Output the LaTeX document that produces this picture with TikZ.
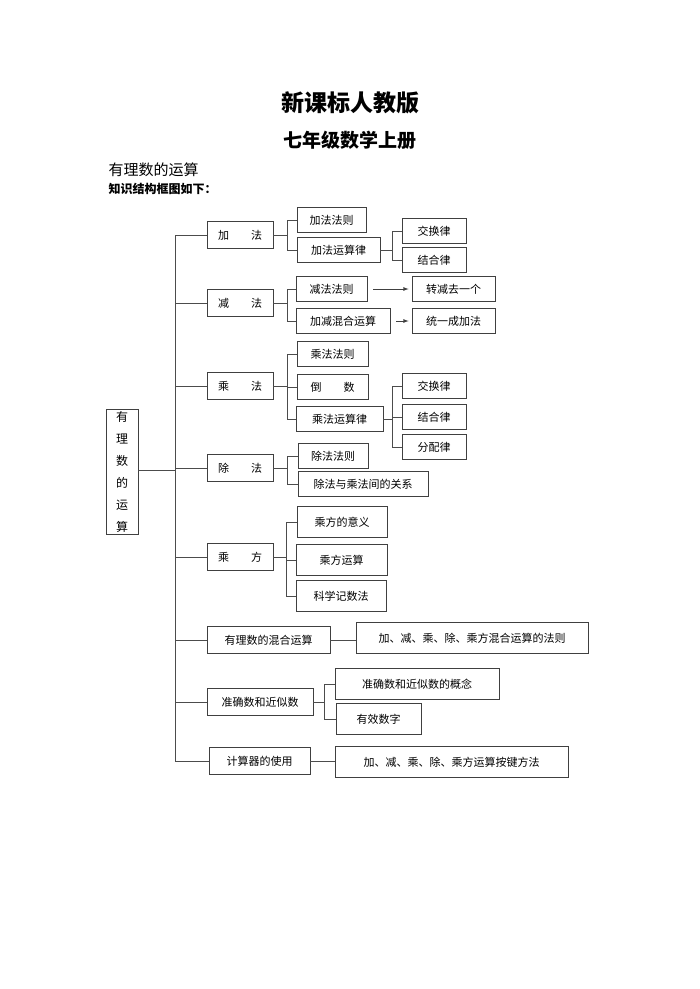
\documentclass[tikz,border=0pt]{standalone}
\usepackage{fontspec}
\setmainfont{Noto Sans CJK SC}
\begin{document}
\begin{tikzpicture}[x=1pt,y=-1pt,line width=0.8pt,
 bx/.style={draw=black!75,inner sep=0pt,font=\fontsize{11}{13}\selectfont},
 ln/.style={draw=black!70},
 ar/.style={draw=black!75,-latex}]
\useasboundingbox (0,0) rectangle (700,989);
\node[font=\fontsize{23}{26}\selectfont\bfseries] (t1) at (350,103) {新课标人教版};
\node[font=\fontsize{19}{22}\selectfont\bfseries] (t2) at (350,140) {七年级数学上册};
\node[anchor=west,font=\fontsize{15}{18}\selectfont] (t3) at (105,170) {有理数的运算};
\node[anchor=west,font=\fontsize{12}{14}\selectfont\bfseries] (t4) at (105,189) {知识结构框图如下：};
% root
\node[bx,minimum width=32pt,minimum height=125pt,align=center,font=\fontsize{12}{22}\selectfont] (r) at (122,472) {有\\理\\数\\的\\运\\算};
% level1
\newcommand{\Lone}[5]{\node[bx,minimum width=#3pt,minimum height=27pt] (#1) at (#4,#5) {#2};}
\Lone{a}{加\hspace{2em}法}{66}{240}{235}
\Lone{b}{减\hspace{2em}法}{66}{240}{303}
\Lone{c}{乘\hspace{2em}法}{66}{240}{386}
\Lone{d}{除\hspace{2em}法}{66}{240}{468}
\Lone{e}{乘\hspace{2em}方}{66}{240}{557}
\Lone{f}{有理数的混合运算}{123}{268.5}{640}
\Lone{g}{准确数和近似数}{106}{260}{702}
\Lone{h}{计算器的使用}{101}{259.5}{761}
\coordinate (tt) at (175,235);
\coordinate (tb) at (175,761);
\draw[ln] (r.east |- 0,470) -- (175,470);
\draw[ln] (tt) -- (tb);
\foreach \n in {a,b,c,d,e,f,g,h} \draw[ln] (\n.west) -- (\n.west -| tt);
% level2
\newcommand{\Ltwo}[5]{\node[bx,minimum width=#3pt,minimum height=25pt] (#1) at (#4,#5) {#2};}
\Ltwo{a1}{加法法则}{69}{331.5}{220}
\Ltwo{a2}{加法运算律}{83}{338.5}{250}
\Ltwo{b1}{减法法则}{71}{331.5}{289}
\Ltwo{b2}{加减混合运算}{94}{343}{321}
\Ltwo{c1}{乘法法则}{71}{332.5}{354}
\Ltwo{c2}{倒\hspace{2em}数}{71}{332.5}{387}
\Ltwo{c3}{乘法运算律}{87}{339.5}{419}
\Ltwo{d1}{除法法则}{70}{333}{456}
\Ltwo{d2}{除法与乘法间的关系}{130}{363}{484}
\newcommand{\Lbig}[5]{\node[bx,minimum width=#3pt,minimum height=31pt] (#1) at (#4,#5) {#2};}
\Lbig{e1}{乘方的意义}{90}{342}{522}
\Lbig{e2}{乘方运算}{91}{341.5}{560}
\Lbig{e3}{科学记数法}{90}{341}{596}
\Lbig{f1}{加、减、乘、除、乘方混合运算的法则}{232}{472}{638}
\Lbig{g1}{准确数和近似数的概念}{164}{417}{684}
\Lbig{g2}{有效数字}{85}{378.5}{719}
\Lbig{h1}{加、减、乘、除、乘方运算按键方法}{233}{451.5}{762}
% level3
\Ltwo{a21}{交换律}{64}{434}{231}
\Ltwo{a22}{结合律}{64}{434}{260}
\Ltwo{b11}{转减去一个}{83}{453.5}{289}
\Ltwo{b21}{统一成加法}{83}{453.5}{321}
\Ltwo{c31}{交换律}{64}{434}{386}
\Ltwo{c32}{结合律}{64}{434}{417}
\Ltwo{c33}{分配律}{64}{434}{447}
% brackets
\newcommand{\Brk}[3]{% parent, x, children
 \coordinate (bm) at (#2,0);
 \draw[ln] (#1.east) -- (#1.east -| bm);
 \foreach \k [count=\i] in {#3} {\draw[ln] (\k.west) -- (\k.west -| bm);}
}
\Brk{a}{287}{a1,a2}\draw[ln] (287,220) -- (287,250);
\Brk{b}{287}{b1,b2}\draw[ln] (287,289) -- (287,321);
\Brk{c}{287}{c1,c2,c3}\draw[ln] (287,354) -- (287,419);
\Brk{d}{287}{d1,d2}\draw[ln] (287,456) -- (287,484);
\Brk{e}{286}{e1,e2,e3}\draw[ln] (286,522) -- (286,596);
\Brk{g}{324}{g1,g2}\draw[ln] (324,684) -- (324,719);
\Brk{a2}{392}{a21,a22}\draw[ln] (392,231) -- (392,260);
\Brk{c3}{392}{c31,c32,c33}\draw[ln] (392,386) -- (392,447);
\draw[ln] (f.east) -- (f1.west |- f.east);
\draw[ln] (h.east) -- (h1.west |- h.east);
\draw[ar] ([xshift=6pt]b1.east) -- ([xshift=-3pt]b11.west);
\draw[ar] ([xshift=6pt]b2.east) -- ([xshift=-3pt]b21.west);
\end{tikzpicture}
\end{document}
